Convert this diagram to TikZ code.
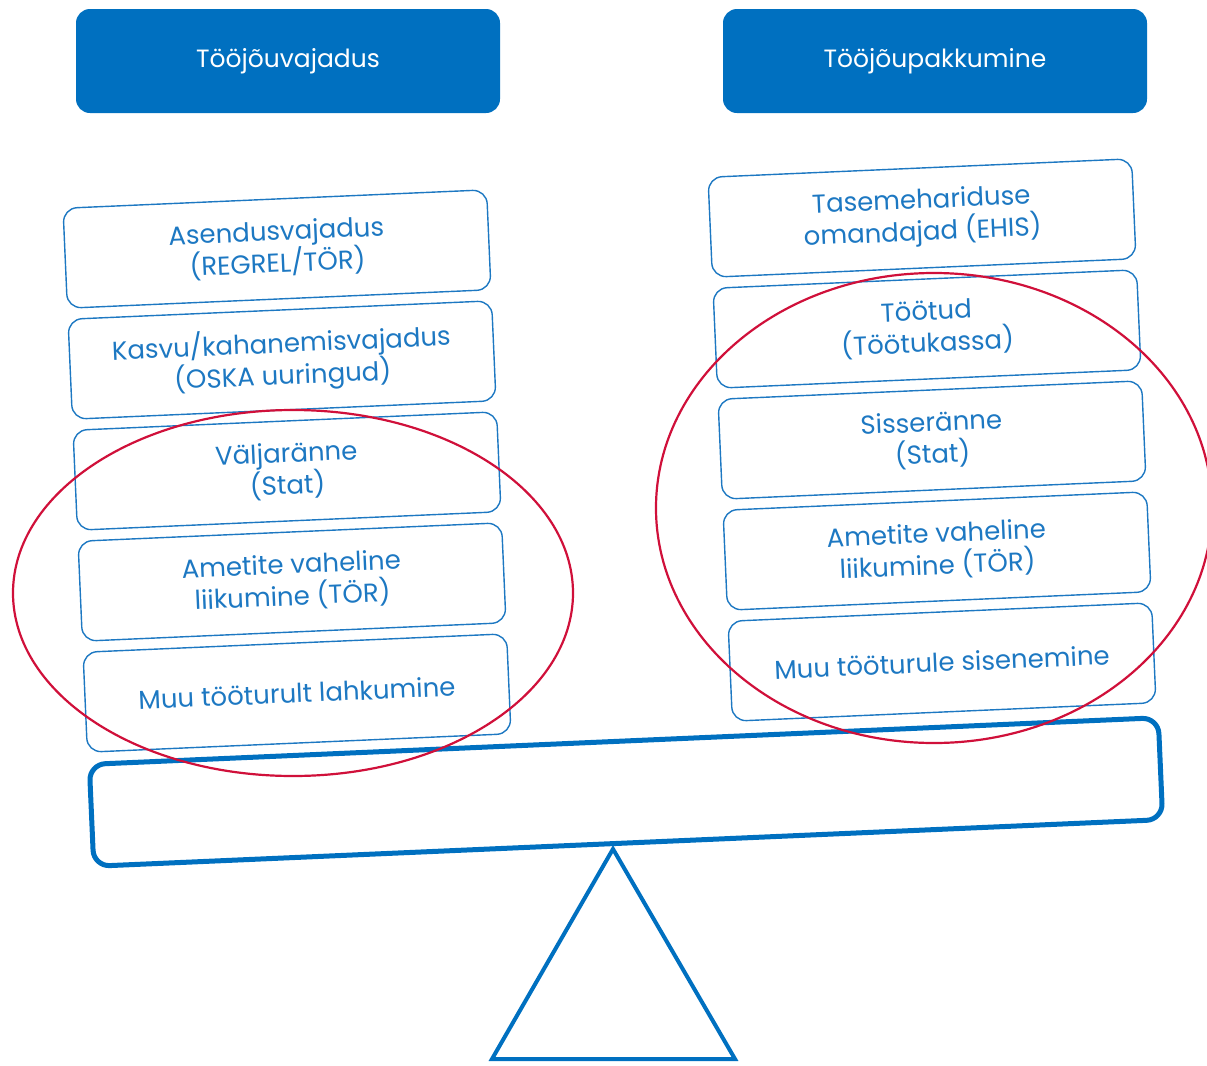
\documentclass[tikz,border=0pt]{standalone}
\usepackage{fontspec}
\setmainfont{Poppins}
\usetikzlibrary{positioning}
\definecolor{hdrblue}{HTML}{0070C0}
\definecolor{txtblue}{HTML}{1D78C2}
\definecolor{ringred}{HTML}{D0103A}

\begin{document}
\begin{tikzpicture}[x=0.5pt,y=-0.5pt,
    header/.style={fill=hdrblue,rounded corners=7pt,minimum width=212pt,minimum height=52pt,text=white,font=\fontsize{12.5}{15}\selectfont},
    item/.style={draw=txtblue,line width=0.7pt,rounded corners=7pt,rotate=2.5,minimum width=212pt,minimum height=50pt,text=txtblue,align=center,font=\fontsize{13}{16}\selectfont},
    ring/.style={draw=ringred,line width=1.1pt}]
\useasboundingbox (0,0) rectangle (1207,1066);

\node[header] (demand) at (288,61) {Tööjõuvajadus};
\node[header] (supply) at (935,61) {Tööjõupakkumine};

\foreach \i/\txt in {0/{Asendusvajadus\\(REGREL/TÖR)}, 1/{Kasvu/kahanemisvajadus\\(OSKA uuringud)}, 2/{Väljaränne\\(Stat)}, 3/{Ametite vaheline\\liikumine (TÖR)}, 4/{Muu tööturult lahkumine}} {
    \node[item] (d\i) at ({277+5*\i},{249+111*\i}) {\txt};
}
\foreach \i/\txt in {0/{Tasemehariduse\\omandajad (EHIS)}, 1/{Töötud\\(Töötukassa)}, 2/{Sisseränne\\(Stat)}, 3/{Ametite vaheline\\liikumine (TÖR)}, 4/{Muu tööturule sisenemine}} {
    \node[item] (s\i) at ({922+5*\i},{218+111*\i}) {\txt};
}

\node[draw=hdrblue,line width=2.5pt,rounded corners=8pt,rotate=2.5,minimum width=535pt,minimum height=51pt] (beam) at (626,792) {};
\coordinate (pivot) at (613,849);
\draw[hdrblue,line width=2pt,line join=miter] (pivot) -- (492,1059) -- (735,1059) -- cycle;

\draw[ring] (293,593) ellipse [x radius=280,y radius=183];
\draw[ring] (934,508) ellipse [x radius=278,y radius=235];
\end{tikzpicture}
\end{document}
